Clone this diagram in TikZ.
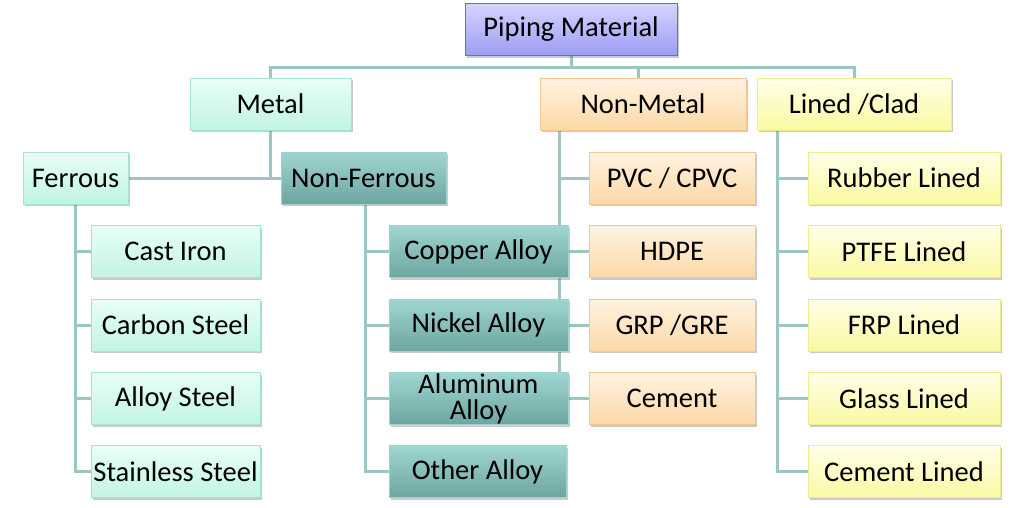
\documentclass[tikz,border=0pt]{standalone}
\usepackage{fontspec}
\setmainfont{Carlito}
\usetikzlibrary{shadows,backgrounds}
\definecolor{lineC}{HTML}{9CC5C4}
\definecolor{lavT}{HTML}{D4D4FF}\definecolor{lavB}{HTML}{9D9DF3}\definecolor{lavD}{HTML}{6A6ADC}
\definecolor{minT}{HTML}{E8FFF6}\definecolor{minB}{HTML}{C2F4E2}\definecolor{minD}{HTML}{A8E4D0}
\definecolor{tealT}{HTML}{A0D6D2}\definecolor{tealB}{HTML}{6FA5A1}\definecolor{tealD}{HTML}{9FD2CE}
\definecolor{pchT}{HTML}{FFF3E2}\definecolor{pchB}{HTML}{FCD8A6}\definecolor{pchD}{HTML}{F6C890}
\definecolor{yelT}{HTML}{FFFFE8}\definecolor{yelB}{HTML}{FAF9A2}\definecolor{yelD}{HTML}{EEEC8C}
\tikzset{
  box/.style={rectangle, inner sep=0pt, line width=1pt, minimum height=52pt,
    font=\fontsize{28.5}{28}\selectfont, text=black, align=center,
    drop shadow={shadow xshift=1.5pt, shadow yshift=-2pt, opacity=0.35, fill=black!60}},
  lav/.style={box, draw=lavD, top color=lavT, bottom color=lavB},
  mint/.style={box, draw=minD, top color=minT, bottom color=minB},
  teal/.style={box, draw=tealD, top color=tealT, bottom color=tealB},
  pch/.style={box, draw=pchD, top color=pchT, bottom color=pchB},
  yel/.style={box, draw=yelD, top color=yelT, bottom color=yelB},
  conn/.style={draw=lineC, line width=3pt}
}
\begin{document}
\begin{tikzpicture}[x=1pt,y=-1pt]
\useasboundingbox (0,0) rectangle (1024,507);
% level 0
\node[lav, minimum width=212pt] (piping) at (571,29.5) {Piping Material};
% level 1
\node[mint, minimum width=161pt] (metal) at (270.5,104) {Metal};
\node[pch, minimum width=206pt] (nonmetal) at (643,104) {Non-Metal};
\node[yel, minimum width=194pt] (lined) at (854,104) {Lined /Clad};
% metal children
\node[mint, minimum width=105pt] (ferrous) at (75.5,178) {Ferrous};
\node[teal, minimum width=165pt] (nonferrous) at (363.5,178) {Non-Ferrous};
% ferrous children
\node[mint, minimum width=169pt] (castiron) at (175.5,251.5) {Cast Iron};
\node[mint, minimum width=169pt] (carbon) at (175.5,325) {Carbon Steel};
\node[mint, minimum width=169pt] (alloysteel) at (175.5,398.5) {Alloy Steel};
\node[mint, minimum width=169pt] (stainless) at (175.5,471.5) {Stainless Steel};
% non-ferrous children
\node[teal, minimum width=179pt] (copper) at (478.5,251.5) {Copper Alloy};
\node[teal, minimum width=179pt] (nickel) at (478.5,325) {Nickel Alloy};
\node[teal, minimum width=179pt, font=\fontsize{28.5}{26}\selectfont] (aluminum) at (478.5,398.5) {Aluminum\\Alloy};
\node[teal, minimum width=177pt] (other) at (477.5,471.5) {Other Alloy};
% non-metal children
\node[pch, minimum width=166pt] (pvc) at (672,178) {PVC / CPVC};
\node[pch, minimum width=166pt] (hdpe) at (672,251.5) {HDPE};
\node[pch, minimum width=166pt] (grp) at (672,325) {GRP /GRE};
\node[pch, minimum width=166pt] (cement) at (672,398.5) {Cement};
% lined children
\node[yel, minimum width=192pt] (rubber) at (904,178) {Rubber Lined};
\node[yel, minimum width=192pt] (ptfe) at (904,251.5) {PTFE Lined};
\node[yel, minimum width=192pt] (frp) at (904,325) {FRP Lined};
\node[yel, minimum width=192pt] (glass) at (904,398.5) {Glass Lined};
\node[yel, minimum width=192pt] (cementlined) at (904,471.5) {Cement Lined};
\coordinate (bus) at (571,67);
\begin{scope}[on background layer]
  % top bus
  \draw[conn] (piping.south) -- (bus);
  \draw[conn] (metal.north) -- (metal.north |- bus) -- (lined.north |- bus) -- (lined.north);
  \draw[conn] ([xshift=-5pt]nonmetal.north) -- ([xshift=-5pt]nonmetal.north |- bus);
  % metal
  \draw[conn] (metal.south) -- (metal.south |- ferrous);
  \draw[conn] (ferrous.east) -- (nonferrous.west);
  % ferrous
  \draw[conn] (ferrous.south) |- (stainless.west);
  \draw[conn] (ferrous.south |- castiron) -- (castiron.west);
  \draw[conn] (ferrous.south |- carbon) -- (carbon.west);
  \draw[conn] (ferrous.south |- alloysteel) -- (alloysteel.west);
  % non-ferrous
  \draw[conn] ([xshift=1.5pt]nonferrous.south) |- (other.west);
  \draw[conn] ([xshift=1.5pt]nonferrous.south |- copper) -- (copper.west);
  \draw[conn] ([xshift=1.5pt]nonferrous.south |- nickel) -- (nickel.west);
  \draw[conn] ([xshift=1.5pt]nonferrous.south |- aluminum) -- (aluminum.west);
  % non-metal
  \draw[conn] ([xshift=20pt]nonmetal.south west) |- (cement.west);
  \draw[conn] ([xshift=20pt]nonmetal.south west |- pvc) -- (pvc.west);
  \draw[conn] ([xshift=20pt]nonmetal.south west |- hdpe) -- (hdpe.west);
  \draw[conn] ([xshift=20pt]nonmetal.south west |- grp) -- (grp.west);
  % lined
  \draw[conn] ([xshift=21pt]lined.south west) |- (cementlined.west);
  \draw[conn] ([xshift=21pt]lined.south west |- rubber) -- (rubber.west);
  \draw[conn] ([xshift=21pt]lined.south west |- ptfe) -- (ptfe.west);
  \draw[conn] ([xshift=21pt]lined.south west |- frp) -- (frp.west);
  \draw[conn] ([xshift=21pt]lined.south west |- glass) -- (glass.west);
\end{scope}
\end{tikzpicture}
\end{document}
